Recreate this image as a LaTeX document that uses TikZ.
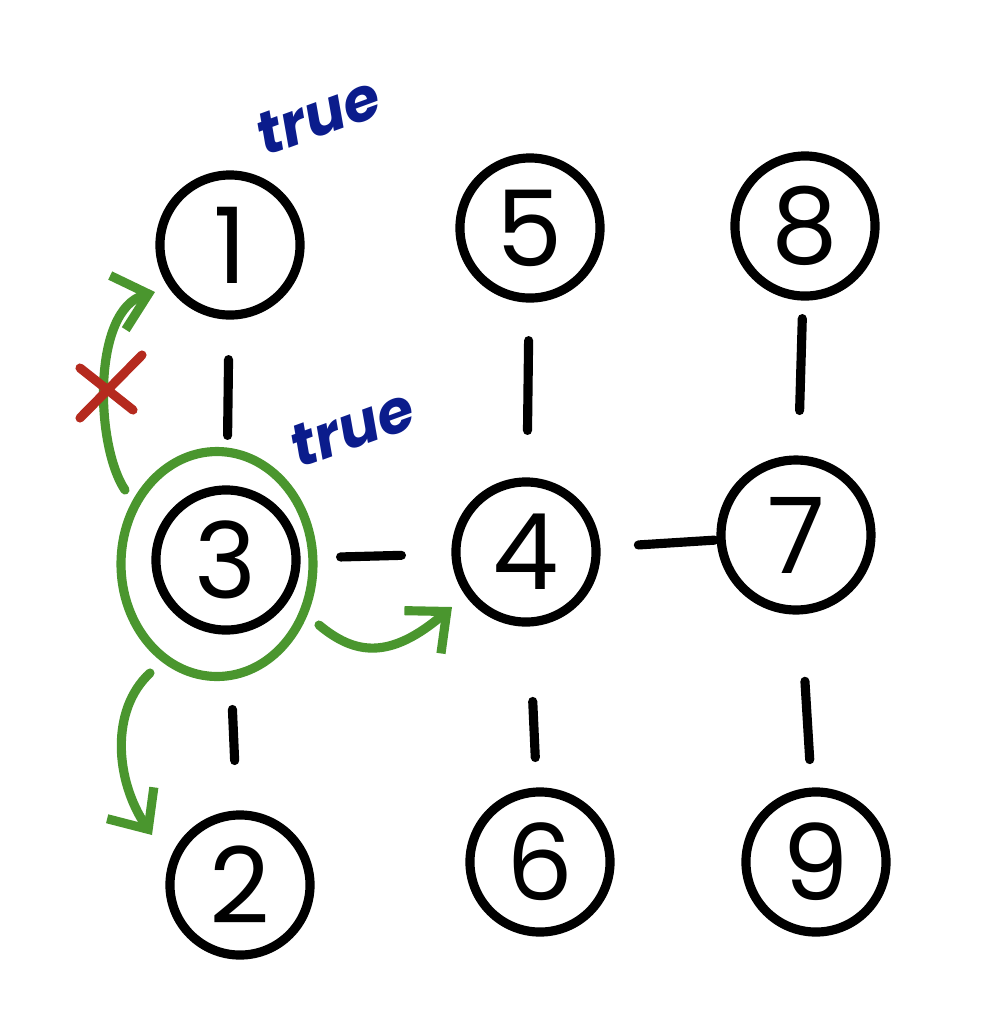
\documentclass[tikz,border=0pt]{standalone}
\usepackage{fontspec}
\setmainfont{Poppins}
\usetikzlibrary{arrows.meta,shapes.geometric}
\definecolor{ink}{HTML}{000000}
\definecolor{grn}{HTML}{4A962E}
\definecolor{rd}{HTML}{B52A1E}
\definecolor{navy}{HTML}{0B1C8C}
\begin{document}
\begin{tikzpicture}[x=0.01cm,y=-0.01cm,
  vert/.style={circle,draw=ink,line width=2.6pt,minimum size=4.2cm/3,inner sep=0pt,
    font=\fontsize{30}{36}\selectfont},
  link/.style={draw=ink,line width=2.6pt,line cap=round},
  gpath/.style={draw=grn,line width=2.6pt,line cap=round,-{Straight Barb[length=9pt,width=16pt,line width=2.6pt]}},
  lbl/.style={text=navy,inner sep=1pt,font=\fontsize{17}{20}\selectfont\bfseries\itshape,rotate=20}]
\useasboundingbox (0,0) rectangle (987,1023);
\node[vert] (n1) at (230,245) {1};
\node[vert] (n5) at (530,228) {5};
\node[vert] (n8) at (805,226) {8};
\node[vert] (n3) at (226,560) {3};
\node[vert] (n4) at (526,552) {4};
\node[vert,minimum size=150*0.01cm] (n7) at (796,535) {7};
\node[vert] (n2) at (240,885) {2};
\node[vert] (n6) at (540,862) {6};
\node[vert] (n9) at (816,862) {9};
% edges
\draw[link,shorten <=40*0.01cm,shorten >=50*0.01cm] (n1) -- (n3);
\draw[link,shorten <=38*0.01cm,shorten >=47*0.01cm] (n5) -- (n4);
\draw[link,shorten <=18*0.01cm,shorten >=45*0.01cm] (n8) -- (n7);
\draw[link,shorten <=40*0.01cm,shorten >=50*0.01cm] (n3) -- (n4);
\draw[link,shorten <=38*0.01cm,shorten >=2*0.01cm] (n4) -- (n7);
\draw[link,shorten <=75*0.01cm,shorten >=50*0.01cm] (n3) -- (n2);
\draw[link,shorten <=75*0.01cm,shorten >=30*0.01cm] (n4) -- (n6);
\draw[link,shorten <=67*0.01cm,shorten >=28*0.01cm] (n7) -- (n9);
% green ring
\node[ellipse,draw=grn,line width=2.6pt,minimum width=192*0.01cm,minimum height=225*0.01cm] (ring) at (217,564) {};
\coordinate (s1) at (125,490);
\coordinate (e1) at (155,292);
\coordinate (s2) at (150,673);
\coordinate (e2) at (152,835);
\coordinate (s3) at (319,625);
\coordinate (e3) at (452,607);
\draw[gpath] (s1) .. controls (95,445) and (92,310) .. (e1);
\draw[gpath] (s2) .. controls (110,710) and (115,780) .. (e2);
\draw[gpath] (s3) .. controls (355,655) and (390,660) .. (e3);
% red cross
\coordinate (x1) at (80,368);
\coordinate (x2) at (133,410);
\coordinate (x3) at (142,355);
\coordinate (x4) at (80,418);
\draw[rd,line width=2.6pt,line cap=round] (x1) -- (x2) (x3) -- (x4);
% labels
\node[lbl] (t1) at (318,116) {true};
\node[lbl] (t2) at (352,428) {true};
\end{tikzpicture}
\end{document}
